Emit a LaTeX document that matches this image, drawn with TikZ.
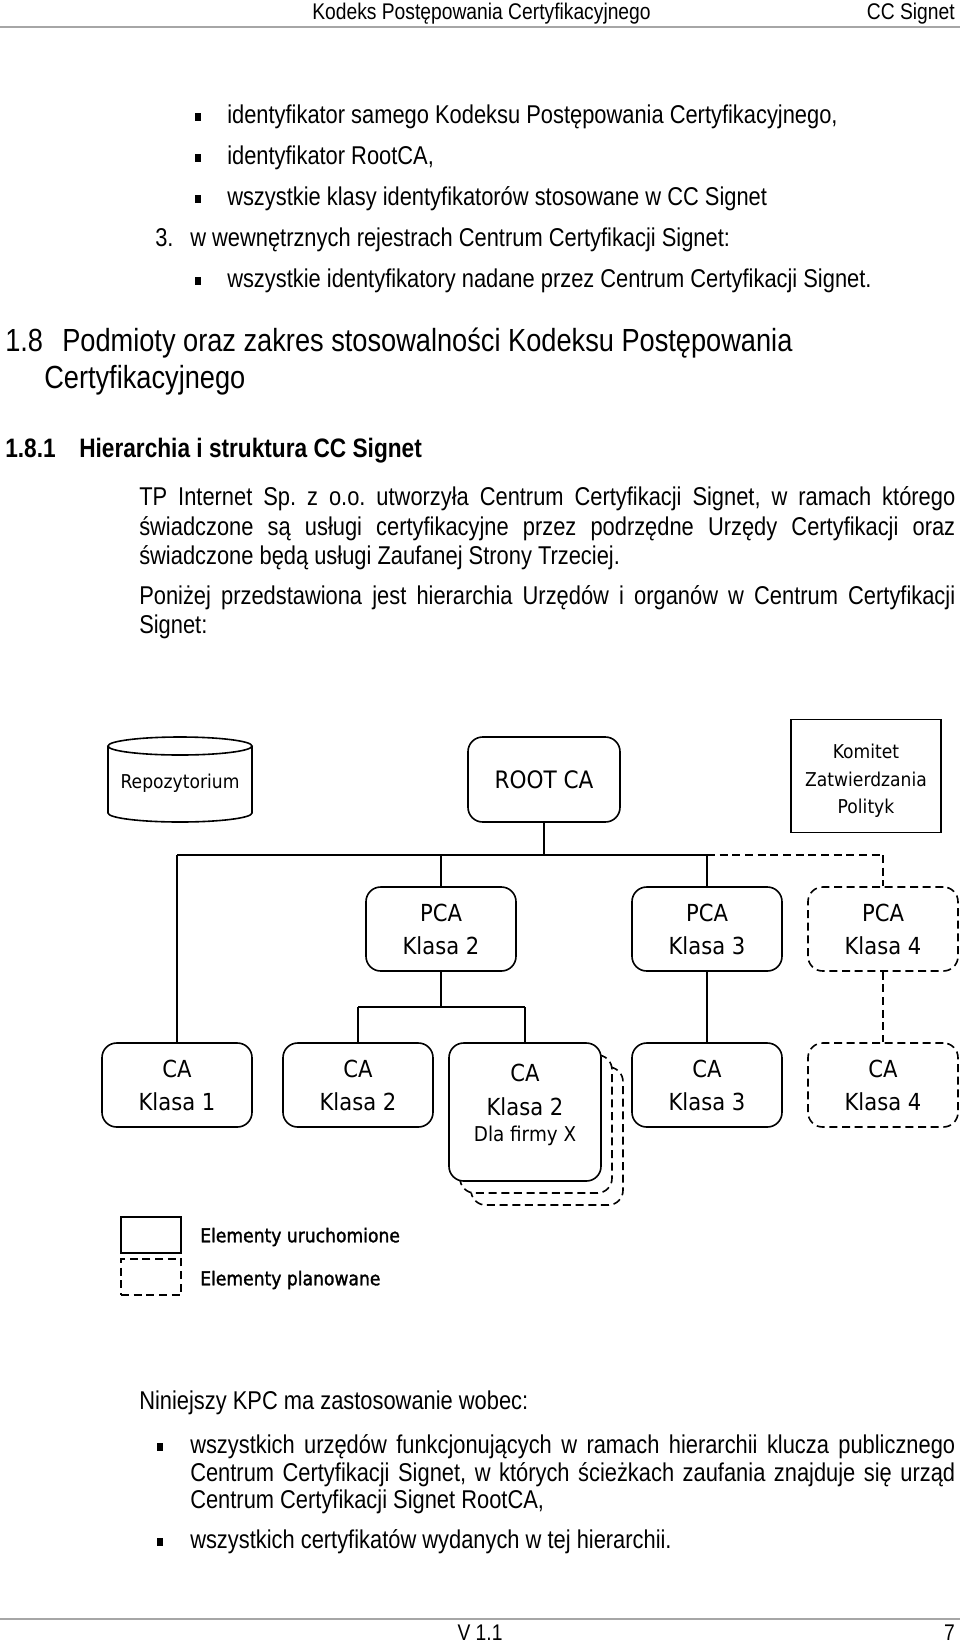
\documentclass[tikz,border=0pt]{standalone}
\usepackage{fontspec}
\setmainfont{Liberation Sans}
\newfontfamily\bodyf{Liberation Sans}[FakeStretch=0.85]
\newfontfamily\diagf{DejaVu Sans}[FakeStretch=0.9]
\newfontfamily\legf{DejaVu Sans}[FakeStretch=0.9, FakeBold=1.5]
\newcommand\fsz[2]{\fontsize{#1}{#2}\selectfont}
\frenchspacing
\begin{document}
\begin{tikzpicture}[x=0.75pt,y=-0.75pt,
  body/.style={font=\bodyf\frenchspacing\fsz{19.3pt}{23pt}, anchor=base west, inner sep=0pt},
  hdr/.style={font=\bodyf\fsz{17pt}{20pt}, inner sep=0pt},
  hone/.style={font=\bodyf\fsz{24pt}{28pt}, anchor=base west, inner sep=0pt},
  htwo/.style={font=\bodyf\bfseries\fsz{20pt}{24pt}, anchor=base west, inner sep=0pt},
  bul/.style={fill=black, minimum width=4.5pt, minimum height=6pt, inner sep=0pt},
  ln/.style={line width=1.2pt},
  dsh/.style={dash pattern=on 6pt off 3.5pt},
  box/.style={draw, ln, fill=white, rounded corners=11pt, minimum width=112.5pt, minimum height=63pt, align=center, inner sep=0pt, font=\diagf\fsz{17.6pt}{24.75pt}},
  txtbox/.style={box, execute at begin node={\rule{0pt}{18.5pt}}},
  plan/.style={box, dsh},
  txtplan/.style={txtbox, dsh},
  small/.style={font=\diagf\fsz{14.3pt}{20.6pt}, align=center, inner sep=0pt},
  legtext/.style={font=\legf\fsz{14.3pt}{17pt}, anchor=west, inner sep=0pt},
]
\useasboundingbox[fill=white] (0,0) rectangle (960,1642);

% header
\node[hdr, anchor=base west] (h1) at (312,19) {Kodeks Postępowania Certyfikacyjnego};
\node[hdr, anchor=base east] (h2) at (955,19) {CC Signet};
\draw[gray!70, line width=1.3pt] (0,27) -- (960,27);

% top list
\node[bul] (b1) at (198,117) {};
\node[body] (t1) at (227,123) {identyfikator samego Kodeksu Postępowania Certyfikacyjnego,};
\node[bul] (b2) at (198,158) {};
\node[body] (t2) at (227,164) {identyfikator RootCA,};
\node[bul] (b3) at (198,199) {};
\node[body] (t3) at (227,205) {wszystkie klasy identyfikatorów stosowane w CC Signet};
\node[body] (n3) at (155,246) {3.};
\node[body] (t4) at (190,246) {w wewnętrznych rejestrach Centrum Certyfikacji Signet:};
\node[bul] (b5) at (198,281) {};
\node[body] (t5) at (227,287) {wszystkie identyfikatory nadane przez Centrum Certyfikacji Signet.};

% headings
\node[hone] (hn1) at (5,351) {1.8};
\node[hone] (ht1) at (62,351) {Podmioty oraz zakres stosowalności Kodeksu Postępowania};
\node[hone] (ht1b) at (44,388) {Certyfikacyjnego};
\node[htwo] (hn2) at (5,457) {1.8.1};
\node[htwo] (ht2) at (79,457) {Hierarchia i struktura CC Signet};

% paragraphs
\node[body] (p1) at (139,505) {\makebox[612pt][s]{TP Internet Sp. z o.o. utworzyła Centrum Certyfikacji Signet, w ramach którego}};
\node[body] (p2) at (139,535) {\makebox[612pt][s]{świadczone są usługi certyfikacyjne przez podrzędne Urzędy Certyfikacji oraz}};
\node[body] (p3) at (139,564) {świadczone będą usługi Zaufanej Strony Trzeciej.};
\node[body] (q1) at (139,604) {\makebox[612pt][s]{Poniżej przedstawiona jest hierarchia Urzędów i organów w Centrum Certyfikacji}};
\node[body] (q2) at (139,633) {Signet:};

% diagram - top row
\draw[ln, fill=white] (108,746) -- (108,813) arc[start angle=180, end angle=360, x radius=54pt, y radius=6.75pt] -- (252,746);
\draw[ln] (180,746) ellipse [x radius=54pt, y radius=6.75pt];
\node[small] (repo) at (180,783) {Repozytorium};
\node[box, minimum width=114pt, minimum height=63.75pt, font=\diagf\fsz{18pt}{22pt}] (root) at (544,779.5) {ROOT CA};
\node[draw, ln, minimum width=112.5pt, minimum height=84.75pt, inner sep=0pt] (kom) at (866,776) {};
\node[small] (komt) at (866,781) {Komitet\\Zatwierdzania\\Polityk};

% PCA row
\node[txtbox] (pca2) at (441,929) {PCA\\Klasa 2};
\node[txtbox] (pca3) at (707,929) {PCA\\Klasa 3};
\node[txtplan] (pca4) at (883,929) {PCA\\Klasa 4};

% CA row
\node[txtbox] (ca1) at (177,1085) {CA\\Klasa 1};
\node[txtbox] (ca2) at (358,1085) {CA\\Klasa 2};
\node[plan, minimum width=114pt, minimum height=103.5pt] (caxc) at (547,1136) {};
\node[plan, minimum width=114pt, minimum height=103.5pt] (caxb) at (536,1124) {};
\node[box, minimum width=114pt, minimum height=103.5pt] (cax) at (525,1112) {};
\node[font=\diagf\fsz{17.6pt}{25.5pt}, align=center, inner sep=0pt] (caxt) at (525,1090) {CA\\Klasa 2};
\node[font=\diagf\fsz{15.3pt}{18pt}, inner sep=0pt] (caxd) at (525,1136) {Dla firmy X};
\node[txtbox] (ca3) at (707,1085) {CA\\Klasa 3};
\node[txtplan] (ca4) at (883,1085) {CA\\Klasa 4};

% connectors
\coordinate (bus) at (0,855);
\coordinate (split) at (0,1007);
\draw[ln] (root.south) -- (root.south |- bus);
\draw[ln] (ca1.north |- bus) -- (pca3.north |- bus);
\draw[ln, dsh] (pca3.north |- bus) -- (pca4.north |- bus);
\draw[ln] (ca1.north |- bus) -- (ca1.north);
\draw[ln] (pca2.north |- bus) -- (pca2.north);
\draw[ln] (pca3.north |- bus) -- (pca3.north);
\draw[ln, dsh] (pca4.north |- bus) -- (pca4.north);
\draw[ln] (pca2.south) -- (pca2.south |- split);
\draw[ln] (ca2.north |- split) -- (cax.north |- split);
\draw[ln] (ca2.north |- split) -- (ca2.north);
\draw[ln] (cax.north |- split) -- (cax.north);
\draw[ln] (pca3.south) -- (ca3.north);
\draw[ln, dsh] (pca4.south) -- (ca4.north);

% legend
\node[draw, ln, minimum width=45pt, minimum height=27pt, inner sep=0pt] (legs) at (151,1235) {};
\node[draw, ln, dsh, minimum width=45pt, minimum height=27pt, inner sep=0pt] (legd) at (151,1277) {};
\node[legtext] (legst) at (200,1237) {Elementy uruchomione};
\node[legtext] (legdt) at (200,1280) {Elementy planowane};

% bottom text
\node[body] (r1) at (139,1409) {Niniejszy KPC ma zastosowanie wobec:};
\node[bul] (rb1) at (160,1447) {};
\node[body] (r2) at (190,1453) {\makebox[573.75pt][s]{wszystkich urzędów funkcjonujących w ramach hierarchii klucza publicznego}};
\node[body] (r3) at (190,1481) {\makebox[573.75pt][s]{Centrum Certyfikacji Signet, w których ścieżkach zaufania znajduje się urząd}};
\node[body] (r4) at (190,1508) {Centrum Certyfikacji Signet RootCA,};
\node[bul] (rb2) at (160,1542) {};
\node[body] (r5) at (190,1548) {wszystkich certyfikatów wydanych w tej hierarchii.};

% footer
\draw[gray!70, line width=1.3pt] (0,1619) -- (960,1619);
\node[hdr, anchor=base] (f1) at (480,1640) {V 1.1};
\node[hdr, anchor=base east] (f2) at (955,1640) {7};
\end{tikzpicture}
\end{document}
